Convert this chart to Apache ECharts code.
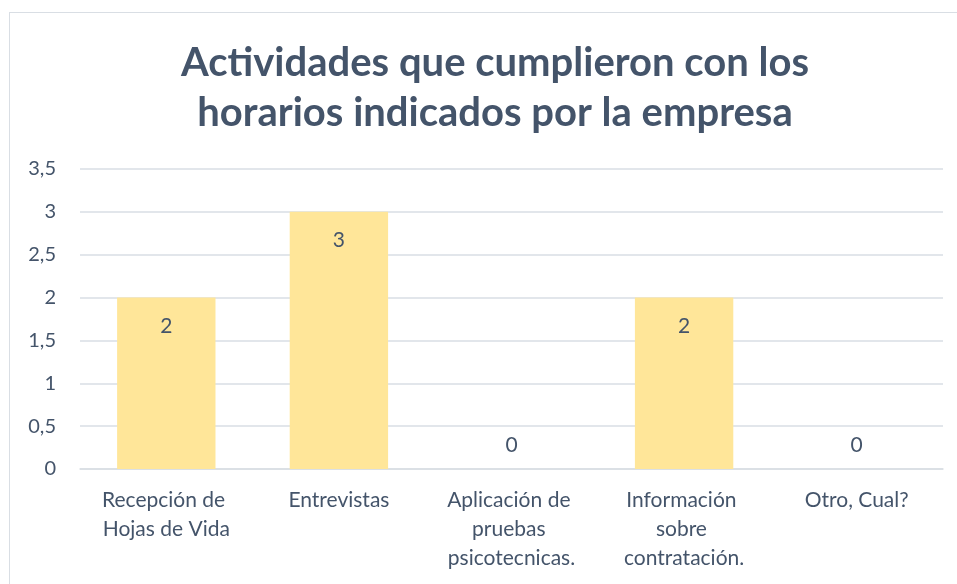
<!DOCTYPE html>
<html>
<head>
<meta charset="utf-8">
<script src="https://cdn.jsdelivr.net/npm/echarts@6/dist/echarts.min.js"></script>
<style>
  html, body { margin: 0; padding: 0; background: #fff; }
  #frame { position: absolute; left: 9px; top: 12px; width: 970px; height: 600px; border: 1px solid #D9DEE4; }
  #chart { position: absolute; left: 0; top: 0; width: 957px; height: 584px; }
</style>
</head>
<body>
<div id="frame"></div>
<div id="chart"></div>
<script>
const categories = ['Recepción de Hojas de Vida', 'Entrevistas', 'Aplicación de pruebas psicotecnicas.', 'Información sobre contratación.', 'Otro, Cual?']
const values = [2, 3, 0, 2, 0]
const yTicks = [0, 0.5, 1, 1.5, 2, 2.5, 3, 3.5]

const textColor = '#44546A'
const font = 'Lato, "Open Sans", sans-serif'

const chart = echarts.init(document.getElementById('chart'))
chart.setOption({
  animation: false,
  title: {
    text: 'Actividades que cumplieron con los\nhorarios indicados por la empresa',
    left: 490,
    top: 33,
    textAlign: 'center',
    textStyle: {
      color: textColor,
      fontFamily: font,
      fontWeight: 'bold',
      fontSize: 40,
      lineHeight: 50
    }
  },
  grid: { left: 80, right: 14, top: 169, bottom: 115 },
  xAxis: {
    type: 'category',
    data: categories,
    axisLine: { lineStyle: { color: '#D9DEE4', width: 1.5 } },
    axisTick: { show: false },
    axisLabel: {
      color: textColor,
      fontFamily: font,
      fontSize: 21,
      lineHeight: 29,
      margin: 17,
      width: 160,
      overflow: 'break',
      interval: 0
    }
  },
  yAxis: {
    type: 'value',
    min: yTicks[0],
    max: yTicks[yTicks.length - 1],
    interval: 0.5,
    axisLine: { show: false },
    axisTick: { show: false },
    splitLine: { lineStyle: { color: '#D9DEE4', width: 1.5 } },
    axisLabel: {
      color: textColor,
      fontFamily: font,
      fontSize: 20,
      margin: 24,
      formatter: v => String(v).replace('.', ',')
    }
  },
  series: [{
    type: 'bar',
    barWidth: '57%',
    itemStyle: { color: '#FFE699' },
    data: values.map(v => ({
      value: v,
      label: v === 0 ? { position: 'top', distance: 13 } : { position: 'insideTop', distance: 18 }
    })),
    label: {
      show: true,
      color: textColor,
      fontFamily: font,
      fontSize: 21
    }
  }]
})
</script>
</body>
</html>
